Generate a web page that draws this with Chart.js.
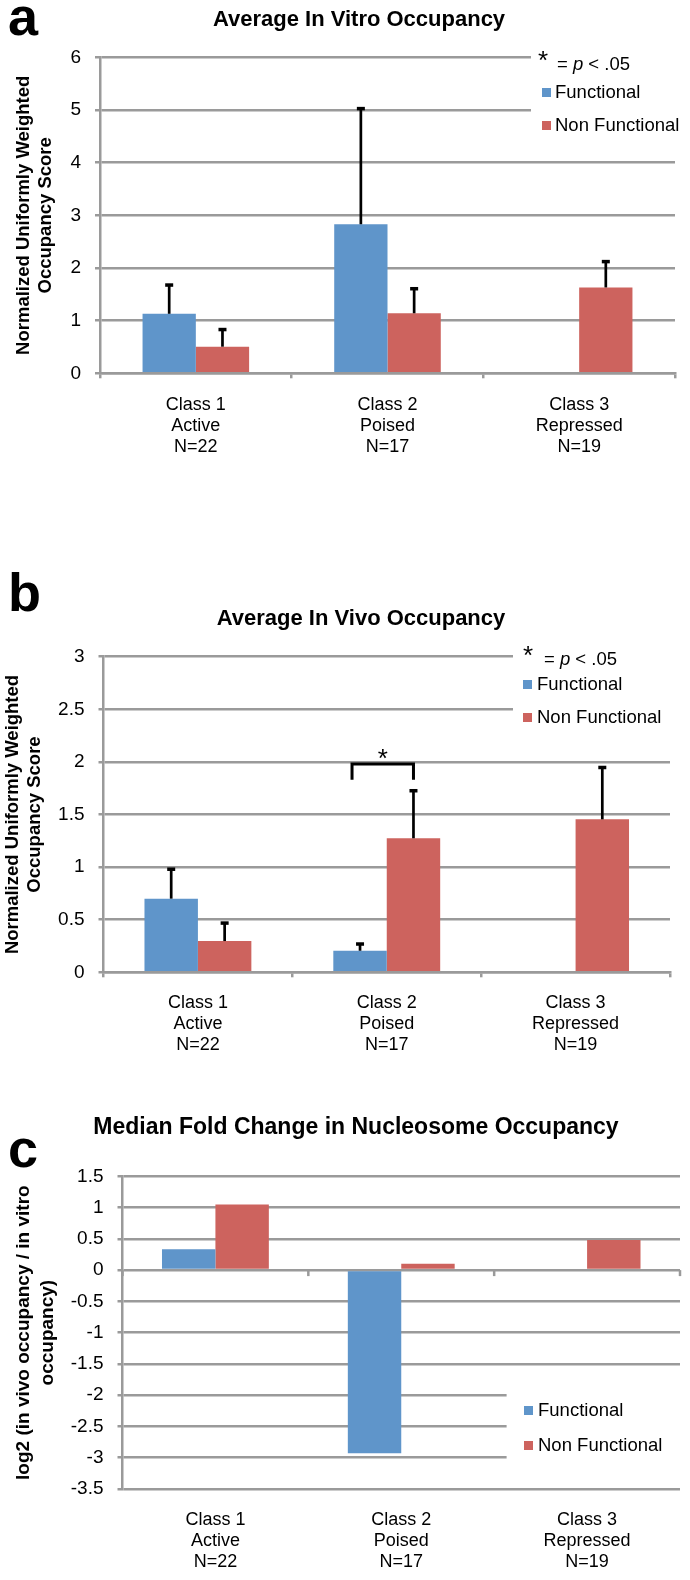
<!DOCTYPE html>
<html>
<head>
<meta charset="utf-8">
<script src="https://cdn.jsdelivr.net/npm/chart.js@4"></script>
<style>
  body { margin: 0; background: #fff; }
  .panel { position: absolute; left: 0; width: 690px; }
</style>
</head>
<body>
<div class="panel" style="top:0;height:480px"><canvas id="chartA"></canvas></div>
<div class="panel" style="top:480px;height:585px"><canvas id="chartB"></canvas></div>
<div class="panel" style="top:1065px;height:515px"><canvas id="chartC"></canvas></div>
<script>
// data
const categories = [['Class 1', 'Active', 'N=22'], ['Class 2', 'Poised', 'N=17'], ['Class 3', 'Repressed', 'N=19']]
const seriesNames = ['Functional', 'Non Functional']

const vitroFunctional = [1.13, 2.83, null]
const vitroNonFunctional = [0.505, 1.14, 1.63]
const vitroFunctionalErr = [0.56, 2.21, null]
const vitroNonFunctionalErr = [0.34, 0.48, 0.505]
const vitroRange = [0, 6, 1]

const vivoFunctional = [0.70, 0.205, null]
const vivoNonFunctional = [0.297, 1.274, 1.454]
const vivoFunctionalErr = [0.287, 0.071, null]
const vivoNonFunctionalErr = [0.178, 0.459, 0.50]
const vivoRange = [0, 3, 0.5]
// significance bracket over Class 2 (in vivo)
const vivoSig = { index: 1, top: 1.98, leg: 1.83, star: 2.09 }

const foldFunctional = [0.335, -2.93, null]
const foldNonFunctional = [1.05, 0.10, 0.48]
const foldRange = [-3.5, 1.5, 0.5]

const FONT = '"Liberation Sans", Arial, sans-serif'
Chart.defaults.font.family = FONT
Chart.defaults.color = '#000'

const GRID = '#9a9a9a'
const BLUE = '#5f95ca'
const RED = '#cd635e'

const errorBars = {
    id: 'errorBars',
    afterDatasetsDraw(chart) {
        const ctx = chart.ctx
        const y = chart.scales.y
        chart.data.datasets.forEach((ds, di) => {
            if (!ds.errors) return
            chart.getDatasetMeta(di).data.forEach((bar, i) => {
                const v = ds.data[i]
                const e = ds.errors[i]
                if (v == null || e == null) return
                const top = y.getPixelForValue(v + e)
                ctx.save()
                ctx.strokeStyle = '#000'
                ctx.lineWidth = 2.7
                ctx.beginPath()
                ctx.moveTo(bar.x, bar.y)
                ctx.lineTo(bar.x, top)
                ctx.stroke()
                ctx.fillStyle = '#000'
                ctx.fillRect(bar.x - 4, top - 1, 8, 3.5)
                ctx.restore()
            })
        })
    }
}

const star = (ctx, x, yCenter) => {
    ctx.font = '26px ' + FONT
    ctx.textBaseline = 'alphabetic'
    ctx.fillText('*', x, yCenter + 15)
}

const decor = (d) => ({
    id: 'decor',
    beforeDatasetsDraw(chart) {
        const ctx = chart.ctx
        ctx.save()
        ctx.fillStyle = '#fff'
        ctx.fillRect(d.cutX, d.maskTop, chart.width - d.cutX, d.maskBottom - d.maskTop)
        if (d.zeroTicks) {
            const x = chart.scales.x
            const y0 = chart.scales.y.getPixelForValue(0)
            ctx.strokeStyle = GRID
            ctx.lineWidth = 2.5
            for (let i = 0; i <= categories.length; i++) {
                const px = x.left + i * x.width / categories.length
                ctx.beginPath()
                ctx.moveTo(px, y0)
                ctx.lineTo(px, y0 + 6)
                ctx.stroke()
            }
        }
        ctx.restore()
    },
    afterDraw(chart) {
        const ctx = chart.ctx
        ctx.save()
        ctx.fillStyle = '#000'
        ctx.textAlign = 'left'
        ctx.textBaseline = 'alphabetic'
        ctx.font = 'bold 54px ' + FONT
        ctx.fillText(d.letter, 8, d.letterY)

        ctx.textAlign = 'center'
        ctx.textBaseline = 'middle'
        ctx.font = 'bold ' + d.titleSize + 'px ' + FONT
        ctx.fillText(d.title, d.titleX, d.titleY)

        ctx.textAlign = 'left'
        if (d.pLine) {
            star(ctx, d.starX, d.starY)
            ctx.textBaseline = 'middle'
            let x = d.pX
            ctx.font = '18.5px ' + FONT
            ctx.fillText('= ', x, d.pY)
            x += ctx.measureText('= ').width
            ctx.font = 'italic 18.5px ' + FONT
            ctx.fillText('p', x, d.pY)
            x += ctx.measureText('p').width
            ctx.font = '18.5px ' + FONT
            ctx.fillText(' < .05', x, d.pY)
        }
        ctx.textBaseline = 'middle'
        ctx.font = '18.5px ' + FONT
        chart.data.datasets.forEach((ds, i) => {
            const cy = d.legendRows[i]
            ctx.fillStyle = ds.backgroundColor
            ctx.fillRect(d.squareX, cy - 5, 9, 9)
            ctx.fillStyle = '#000'
            ctx.fillText(ds.label, d.textX, cy)
        })

        if (d.sig) {
            const s = d.sig
            const y = chart.scales.y
            const a = chart.getDatasetMeta(0).data[s.index]
            const b = chart.getDatasetMeta(1).data[s.index]
            const left = a.x - 8
            const right = b.x
            const top = y.getPixelForValue(s.top)
            const leg = y.getPixelForValue(s.leg)
            ctx.strokeStyle = '#000'
            ctx.lineWidth = 3
            ctx.beginPath()
            ctx.moveTo(left, leg)
            ctx.lineTo(left, top)
            ctx.lineTo(right, top)
            ctx.lineTo(right, leg)
            ctx.stroke()
            ctx.textAlign = 'center'
            star(ctx, (left + right) / 2, y.getPixelForValue(s.star))
        }
        ctx.restore()
    }
})

function makeChart(id, p) {
    return new Chart(document.getElementById(id), {
        type: 'bar',
        data: {
            labels: categories,
            datasets: [
                { label: seriesNames[0], data: p.f, errors: p.fErr, backgroundColor: BLUE,
                  categoryPercentage: p.catPct, barPercentage: 1, borderWidth: 0 },
                { label: seriesNames[1], data: p.nf, errors: p.nfErr, backgroundColor: RED,
                  categoryPercentage: p.catPct, barPercentage: 1, borderWidth: 0 }
            ]
        },
        options: {
            responsive: true,
            maintainAspectRatio: false,
            animation: false,
            devicePixelRatio: 1,
            layout: { padding: { left: 0, right: p.padRight, top: p.top, bottom: p.padBottom } },
            plugins: {
                legend: { display: false },
                title: { display: false },
                tooltip: { enabled: false }
            },
            scales: {
                x: {
                    ticks: { font: { size: 18, lineHeight: 21 / 18 }, padding: p.xPad, maxRotation: 0, autoSkip: false },
                    grid: { display: p.xTicks, drawTicks: p.xTicks, drawOnChartArea: false, color: GRID,
                            lineWidth: 2.5, tickLength: 5, offset: true },
                    border: { display: p.xTicks, color: GRID, width: 2.5 },
                    afterFit(s) { s.height = 80 }
                },
                y: {
                    min: p.range[0],
                    max: p.range[1],
                    ticks: { stepSize: p.range[2], padding: 14, font: { size: 19 }, callback: v => String(v) },
                    grid: { color: GRID, lineWidth: 2.5, tickLength: 5 },
                    border: { color: GRID, width: 2.5 },
                    title: {
                        display: true,
                        text: p.yTitle,
                        font: { size: p.yTitleSize, weight: 'bold', lineHeight: p.yTitleLH / p.yTitleSize },
                        padding: { top: p.yTitlePad, bottom: 0 }
                    },
                    afterFit(s) { s.width = p.yWidth }
                }
            }
        },
        plugins: [errorBars, decor(p.decor)]
    })
}

const occTitle = ['Normalized Uniformly Weighted', 'Occupancy Score']

makeChart('chartA', {
    f: vitroFunctional, nf: vitroNonFunctional, fErr: vitroFunctionalErr, nfErr: vitroNonFunctionalErr,
    range: vitroRange, catPct: 0.556,
    top: 57.3, padRight: 15, padBottom: 26.7, yWidth: 100, xPad: 16, xTicks: true,
    yTitle: occTitle, yTitleSize: 18.5, yTitleLH: 22, yTitlePad: 13,
    decor: {
        letter: 'a', letterY: 35, title: 'Average In Vitro Occupancy', titleX: 359, titleY: 20, titleSize: 22,
        cutX: 531, maskTop: 45, maskBottom: 120,
        pLine: true, starX: 538, starY: 54, pX: 557, pY: 65,
        squareX: 542, textX: 555, legendRows: [93, 126]
    }
})

makeChart('chartB', {
    f: vivoFunctional, nf: vivoNonFunctional, fErr: vivoFunctionalErr, nfErr: vivoNonFunctionalErr,
    range: vivoRange, catPct: 0.566,
    top: 176.7, padRight: 20, padBottom: 12.7, yWidth: 103.5, xPad: 15, xTicks: true,
    yTitle: occTitle, yTitleSize: 18.5, yTitleLH: 22, yTitlePad: 2,
    decor: {
        letter: 'b', letterY: 131, title: 'Average In Vivo Occupancy', titleX: 361, titleY: 139, titleSize: 22,
        cutX: 513, maskTop: 160, maskBottom: 245,
        pLine: true, starX: 523, starY: 169, pX: 544, pY: 180,
        squareX: 523, textX: 537, legendRows: [205, 238],
        sig: vivoSig
    }
})

makeChart('chartC', {
    f: foldFunctional, nf: foldNonFunctional, fErr: null, nfErr: null,
    range: foldRange, catPct: 0.575,
    top: 111.3, padRight: 10, padBottom: 11, yWidth: 122.5, xPad: 20.5, xTicks: false,
    yTitle: ['log2 (in vivo occupancy / in vitro', 'occupancy)'], yTitleSize: 19, yTitleLH: 24, yTitlePad: 12,
    decor: {
        letter: 'c', letterY: 102, title: 'Median Fold Change in Nucleosome Occupancy', titleX: 356, titleY: 63, titleSize: 23,
        cutX: 506.6, maskTop: 315, maskBottom: 410, zeroTicks: true,
        pLine: false, squareX: 524, textX: 538, legendRows: [346, 381]
    }
})
</script>
</body>
</html>
